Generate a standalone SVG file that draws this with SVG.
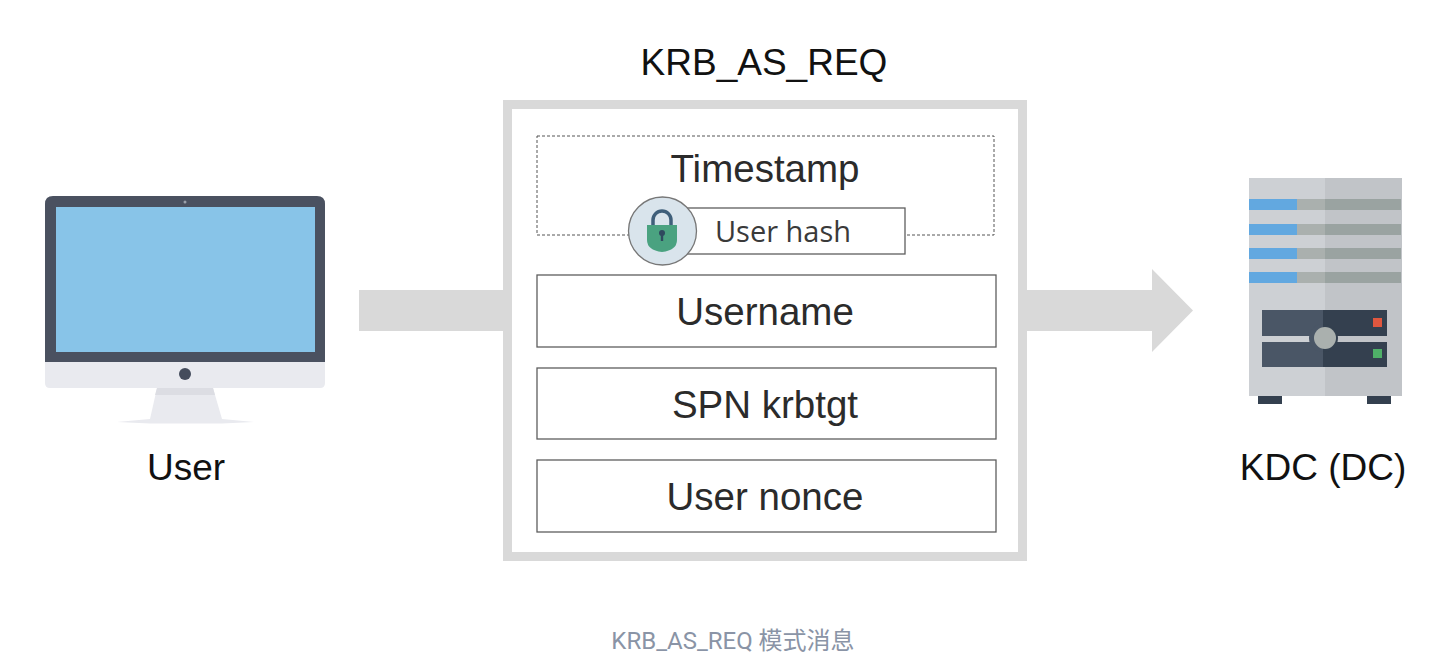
<svg xmlns="http://www.w3.org/2000/svg" width="1448" height="666" viewBox="0 0 1448 666">
<style>
text{font-family:"Liberation Sans",Arial,sans-serif;fill:#1a1a1a;text-anchor:middle}
.lbl{font-size:38.500px;fill:#2b2b2b}
.cap{font-size:37px;fill:#111}
.row{fill:#fff;stroke:#5e5e5e;stroke-width:1.300}
.band{fill:#d9d9d9}
</style>
<rect width="1448" height="666" fill="#fff"/>
<g id="connectors">
<rect class="band" x="359" y="290" width="146" height="41"/>
<path class="band" d="M1026 290H1152V269L1193 310.500L1152 352V331H1026Z"/>
</g>
<g id="user">
<path d="M45 352V204Q45 196 53 196H317Q325 196 325 204V352Z" fill="#4a5160"/>
<rect x="56" y="207" width="259" height="145" fill="#88c4e8"/>
<circle cx="185" cy="202" r="1.500" fill="#9aa0aa"/>
<path d="M45 362H325V383Q325 388 320 388H50Q45 388 45 383Z" fill="#e9eaef"/>
<rect x="45" y="352" width="280" height="10" fill="#4a5160"/>
<circle cx="185" cy="374" r="6" fill="#444c5c"/>
<path d="M157 388H213L222 419L254 422L222 423.500H150L117 422L150 419Z" fill="#e9eaef"/>
<path d="M157 388H213L215 395H155Z" fill="#dcdde3"/>
<text class="cap" x="186" y="480">User</text>
</g>
<g id="kdc">
<rect x="1249" y="178" width="77" height="218" fill="#cdd0d4"/>
<rect x="1325" y="178" width="77" height="218" fill="#c1c4c8"/>
<g fill="#aab0ae"><rect x="1297" y="199" width="29" height="11"/><rect x="1297" y="224" width="29" height="11"/><rect x="1297" y="248" width="29" height="11"/><rect x="1297" y="272" width="29" height="11"/></g>
<g fill="#9aa3a1"><rect x="1325" y="199" width="76" height="11"/><rect x="1325" y="224" width="76" height="11"/><rect x="1325" y="248" width="76" height="11"/><rect x="1325" y="272" width="76" height="11"/></g>
<g fill="#62a8e0"><rect x="1249" y="199" width="48" height="11"/><rect x="1249" y="224" width="48" height="11"/><rect x="1249" y="248" width="48" height="11"/><rect x="1249" y="272" width="48" height="11"/></g>
<rect x="1262" y="310" width="62" height="26" fill="#4a5666"/>
<rect x="1323" y="310" width="64" height="26" fill="#34404f"/>
<rect x="1262" y="342" width="62" height="25" fill="#4a5666"/>
<rect x="1323" y="342" width="64" height="25" fill="#34404f"/>
<path d="M1323 324A14 14 0 0 0 1323 352Z" fill="#4a5666"/>
<path d="M1323 324A15 14 0 0 1 1323 352Z" fill="#34404f"/>
<circle cx="1325" cy="338" r="11" fill="#aab0ae"/>
<rect x="1373" y="318" width="9" height="9" fill="#e0573f"/>
<rect x="1373" y="349" width="9" height="9" fill="#4fb068"/>
<rect x="1258" y="396" width="24" height="8" fill="#34404f"/>
<rect x="1367" y="396" width="24" height="8" fill="#34404f"/>
<text class="cap" x="1323" y="480">KDC (DC)</text>
</g>
<g id="message">
<rect x="507.500" y="104.500" width="515" height="452" fill="#fff" stroke="#d9d9d9" stroke-width="9"/>
<text class="cap" x="764" y="75">KRB_AS_REQ</text>
</g>
<g id="timestamp">
<rect x="537" y="136" width="457" height="99" fill="none" stroke="#555" stroke-width="1" stroke-dasharray="3 2"/>
<text class="lbl" x="765" y="182">Timestamp</text>
</g>
<g id="user-hash">
<rect x="680" y="208" width="225" height="46" class="row"/>
<text x="783" y="242" font-size="29" style="font-family:'Open Sans','Liberation Sans',sans-serif;fill:#3a3a3a">User hash</text>
<circle cx="662.500" cy="231" r="34" fill="#d9e4ec" stroke="#777" stroke-width="1.300"/>
<path d="M653 226V220A9 9 0 0 1 671 220V226" fill="none" stroke="#3f5f7a" stroke-width="3.500"/>
<path d="M647 225H677V240Q677 250 662 252Q647 250 647 240Z" fill="#4aa280"/>
<circle cx="662" cy="233" r="3" fill="#2f4a5e"/>
<rect x="660.800" y="234" width="2.400" height="7" fill="#2f4a5e"/>
</g>
<g id="username">
<rect x="537" y="275" width="459" height="72" class="row"/>
<text class="lbl" x="765" y="325">Username</text>
</g>
<g id="spn">
<rect x="537" y="368" width="459" height="71" class="row"/>
<text class="lbl" x="765" y="418">SPN krbtgt</text>
</g>
<g id="nonce">
<rect x="537" y="460" width="459" height="72" class="row"/>
<text class="lbl" x="765" y="510">User nonce</text>
</g>
<g id="caption">
<text x="733" y="649" font-size="24" style="font-family:Roboto,'Noto Sans CJK SC',sans-serif;fill:#8a94a6">KRB_AS_REQ 模式消息</text>
</g>
</svg>
